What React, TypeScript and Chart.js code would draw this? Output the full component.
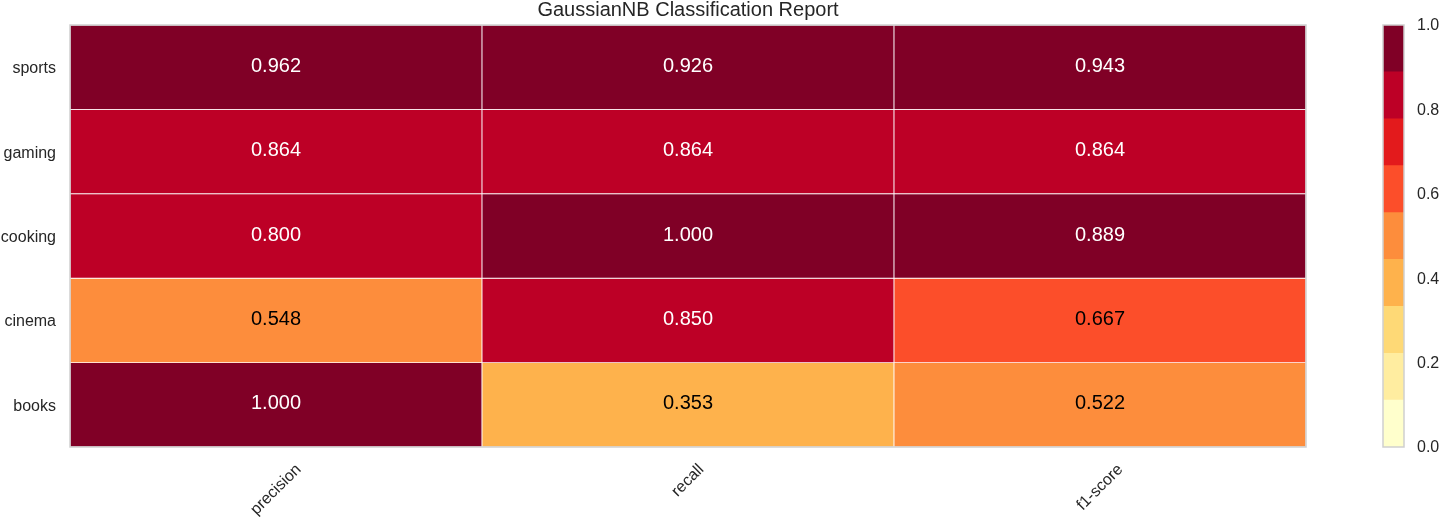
import { useEffect, useRef } from 'react'
import { Chart, registerables } from 'chart.js'

Chart.register(...registerables)

const classes = ['sports', 'gaming', 'cooking', 'cinema', 'books']
const metrics = ['precision', 'recall', 'f1-score']
const precision = [0.962, 0.864, 0.8, 0.548, 1.0]
const recall = [0.926, 0.864, 1.0, 0.85, 0.353]
const f1Score = [0.943, 0.864, 0.8889, 0.6666, 0.522]
const colorbarTicks = [0, 0.2, 0.4, 0.6, 0.8, 1.0]

// YlOrRd, 9 classes
const palette = ['#ffffcc', '#ffeda0', '#fed976', '#feb24c', '#fd8d3c', '#fc4e2a', '#e31a1c', '#bd0026', '#800026']

const FONT = '"Liberation Sans", Arial, sans-serif'
const TEXT = '#262626'

function binOf(v: number) {
  return Math.min(palette.length - 1, Math.max(0, Math.floor(v * palette.length)))
}

function Heatmap() {
  const canvasRef = useRef<HTMLCanvasElement>(null)
  const chartRef = useRef<Chart | null>(null)

  useEffect(() => {
    if (!canvasRef.current) return
    if (chartRef.current) chartRef.current.destroy()

    const rows = classes.map((name, r) => [precision[r], recall[r], f1Score[r]])

    const cellLabels = {
      id: 'cellLabels',
      afterDatasetsDraw(chart: any) {
        const ctx = chart.ctx
        ctx.save()
        ctx.font = `20px ${FONT}`
        ctx.textAlign = 'center'
        ctx.textBaseline = 'middle'
        rows.forEach((vals, r) => {
          const meta = chart.getDatasetMeta(r)
          meta.data.forEach((bar: any, c: number) => {
            const { x, y, base } = bar.getProps(['x', 'y', 'base'], true)
            const v = vals[c]
            ctx.fillStyle = binOf(v) >= 6 ? '#ffffff' : '#000000'
            ctx.fillText(v.toFixed(3), x, (y + base) / 2 - 1)
          })
        })
        ctx.restore()
      },
    }

    const frame = {
      id: 'frame',
      afterDraw(chart: any) {
        const { ctx, chartArea } = chart
        const { left, top, right, bottom } = chartArea
        ctx.save()
        ctx.strokeStyle = '#cfcfcf'
        ctx.lineWidth = 1.5
        ctx.strokeRect(left, top, right - left, bottom - top)

        // title
        ctx.fillStyle = TEXT
        ctx.font = `20px ${FONT}`
        ctx.textAlign = 'center'
        ctx.textBaseline = 'alphabetic'
        ctx.fillText('GaussianNB Classification Report', (left + right) / 2, 16)

        // rotated x labels, centred on each column
        const xs = chart.scales.x
        ctx.font = `16px ${FONT}`
        ctx.textBaseline = 'middle'
        metrics.forEach((m, i) => {
          const x = xs.getPixelForTick(i)
          const w = ctx.measureText(m).width
          const cy = bottom + 20 + w * 0.3535
          ctx.save()
          ctx.translate(x, cy)
          ctx.rotate(-Math.PI / 4)
          ctx.fillText(m, 0, 0)
          ctx.restore()
        })
        ctx.restore()
      },
    }

    chartRef.current = new Chart(canvasRef.current, {
      type: 'bar',
      data: {
        labels: metrics,
        datasets: rows.map((vals, r) => ({
          label: classes[r],
          data: vals.map(() => [r, r + 1]),
          backgroundColor: vals.map((v) => palette[binOf(v)]),
          borderColor: '#ffffff',
          borderWidth: 0.8,
          borderSkipped: false,
          grouped: false,
          barPercentage: 1,
          categoryPercentage: 1,
        })),
      },
      options: {
        responsive: true,
        maintainAspectRatio: false,
        animation: false,
        layout: { padding: { top: 25, right: 14, bottom: 0, left: 0 } },
        plugins: {
          legend: { display: false },
          tooltip: { enabled: false },
          title: { display: false },
        },
        scales: {
          x: {
            grid: { display: false, drawTicks: false },
            border: { display: false },
            ticks: { display: false },
            afterFit: (scale: any) => {
              scale.height = 72
            },
          },
          y: {
            type: 'linear',
            min: 0,
            max: classes.length,
            reverse: true,
            grid: { display: false, drawTicks: false },
            border: { display: false },
            afterBuildTicks: (scale: any) => {
              scale.ticks = classes.map((_, i) => ({ value: i + 0.5 }))
            },
            ticks: {
              padding: 14,
              labelOffset: 1.5,
              color: TEXT,
              font: { size: 16, family: FONT },
              callback: (v: any) => classes[Math.floor(Number(v))],
            },
            afterFit: (scale: any) => {
              scale.width = 70
            },
          },
        },
      },
      plugins: [cellLabels, frame],
    })

    return () => {
      if (chartRef.current) chartRef.current.destroy()
    }
  }, [])

  return <canvas ref={canvasRef} />
}

function Colorbar() {
  const canvasRef = useRef<HTMLCanvasElement>(null)
  const chartRef = useRef<Chart | null>(null)

  useEffect(() => {
    if (!canvasRef.current) return
    if (chartRef.current) chartRef.current.destroy()

    const n = palette.length
    const frame = {
      id: 'cbFrame',
      afterDatasetsDraw(chart: any) {
        const { ctx, chartArea } = chart
        const { left, top, right, bottom } = chartArea
        ctx.save()
        ctx.strokeStyle = '#cfcfcf'
        ctx.lineWidth = 1.5
        ctx.strokeRect(left, top, right - left, bottom - top)
        ctx.restore()
      },
    }

    chartRef.current = new Chart(canvasRef.current, {
      type: 'bar',
      data: {
        labels: ['scale'],
        datasets: palette.map((color, i) => ({
          data: [[i / n, (i + 1) / n]],
          backgroundColor: color,
          borderWidth: 0,
          grouped: false,
          barPercentage: 1,
          categoryPercentage: 1,
        })),
      },
      options: {
        responsive: true,
        maintainAspectRatio: false,
        animation: false,
        layout: { padding: { top: 25, right: 0, bottom: 72, left: 23 } },
        plugins: {
          legend: { display: false },
          tooltip: { enabled: false },
        },
        scales: {
          x: { display: false },
          y: {
            type: 'linear',
            position: 'right',
            min: 0,
            max: 1,
            grid: { display: false, drawTicks: false },
            border: { display: false },
            afterBuildTicks: (scale: any) => {
              scale.ticks = colorbarTicks.map((v) => ({ value: v }))
            },
            ticks: {
              padding: 13,
              labelOffset: 1,
              color: TEXT,
              font: { size: 16, family: FONT },
              callback: (v: any) => Number(v).toFixed(1),
            },
            afterFit: (scale: any) => {
              scale.width = 36
            },
          },
        },
      },
      plugins: [frame],
    })

    return () => {
      if (chartRef.current) chartRef.current.destroy()
    }
  }, [])

  return <canvas ref={canvasRef} />
}

export default function App() {
  return (
    <div style={{ position: 'fixed', left: 0, top: 0, width: 1440, height: 519, background: '#ffffff' }}>
      <div style={{ position: 'absolute', left: 0, top: 0, width: 1320, height: 519 }}>
        <Heatmap />
      </div>
      <div style={{ position: 'absolute', left: 1360, top: 0, width: 80, height: 519 }}>
        <Colorbar />
      </div>
    </div>
  )
}
